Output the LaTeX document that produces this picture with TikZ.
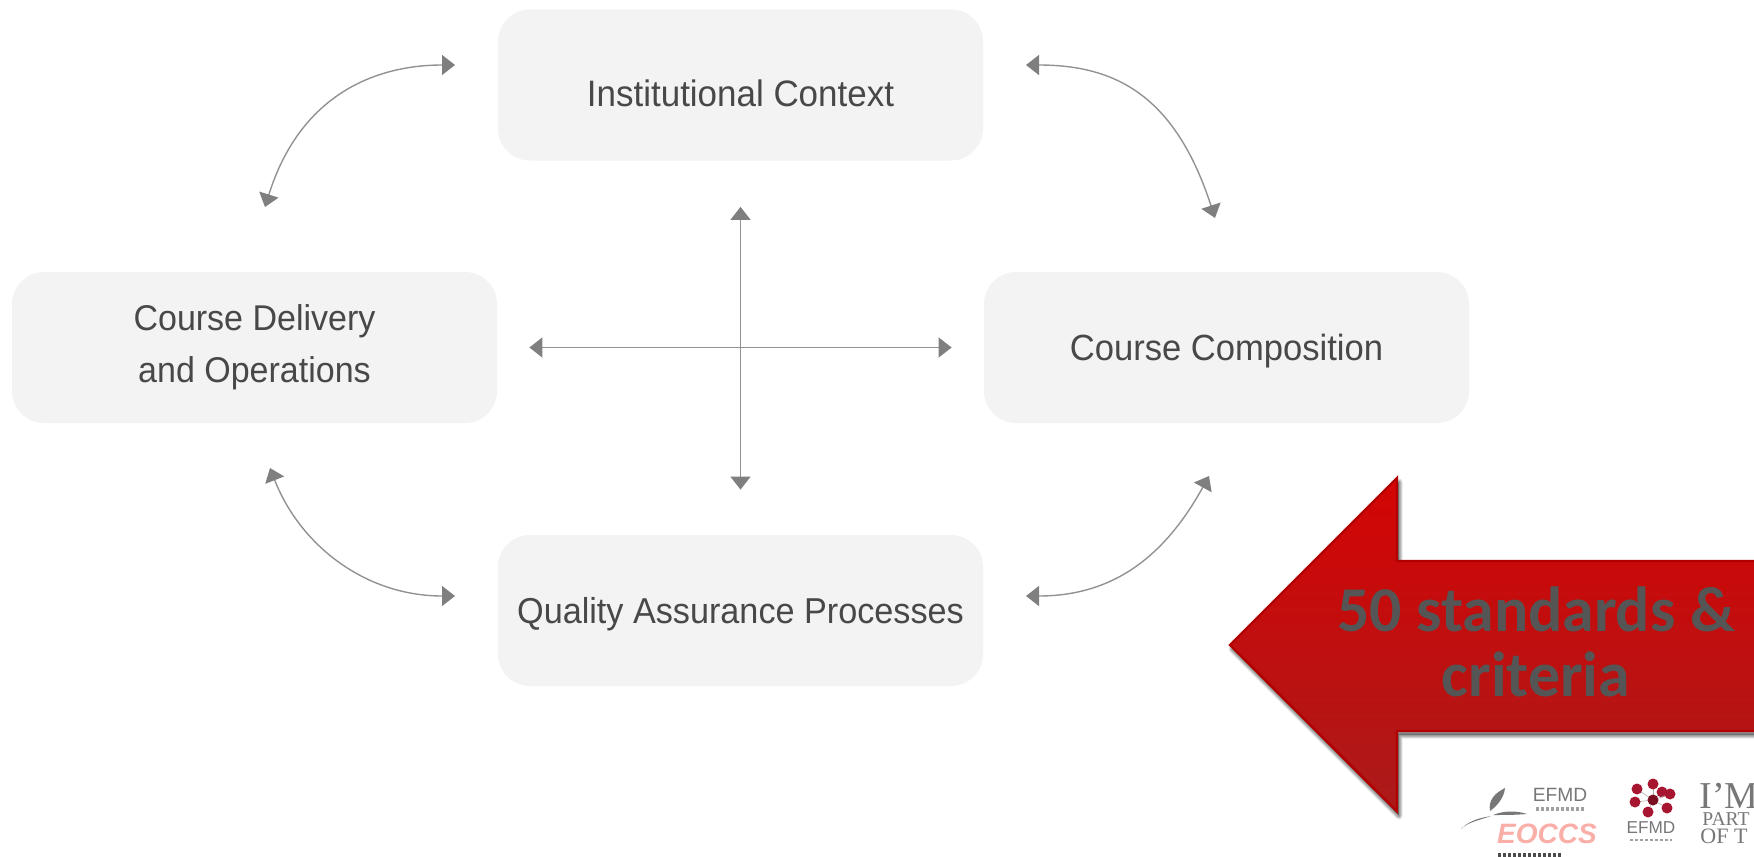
\documentclass[tikz,border=0pt]{standalone}
\usepackage{fontspec}
\setmainfont{Liberation Sans}
\newfontfamily\neue[FakeStretch=0.95]{Liberation Sans}
\newfontfamily\callout{Carlito}
\newfontfamily\serifl{Liberation Serif}
\usetikzlibrary{arrows.meta}
\definecolor{boxfill}{HTML}{F3F3F3}
\definecolor{boxtext}{HTML}{484848}
\definecolor{linegray}{HTML}{929292}
\definecolor{headgray}{HTML}{7F7F7F}
\definecolor{logored}{HTML}{A81530}
\definecolor{logodark}{HTML}{7A0F22}
\definecolor{logogray}{HTML}{777777}
\definecolor{arrowtop}{HTML}{D40404}
\definecolor{arrowbot}{HTML}{AB1A1A}
\definecolor{arrowline}{HTML}{B30000}
\definecolor{textdark}{HTML}{555555}
\definecolor{eoccspink}{HTML}{F9AFA8}
\newcommand{\lowered}[2]{\raisebox{-#1}[0pt][0pt]{#2}}
\tikzset{
  x=0.5pt,y=0.5pt,
  stagebox/.style={draw=none,fill=boxfill,rounded corners=16pt,minimum width=242.5pt,minimum height=75.5pt,inner sep=0pt,align=center,text=boxtext},
  link/.style={draw=linegray,line width=0.7pt,{Triangle[width=10pt,length=6.5pt,color=headgray]}-{Triangle[width=10pt,length=6.5pt,color=headgray]}},
  logotext/.style={inner sep=0pt,text=logogray},
  feather/.style={fill=logogray,draw=none},
  dot/.style={circle,fill=logored,draw=none,inner sep=0pt,minimum size=5.5pt},
  spoke/.style={draw=logogray!60,line width=0.3pt},
  smudge/.style={draw=logogray!70,line width=1.8pt,dash pattern=on 1.5pt off 1pt},
}
\begin{document}
\begin{tikzpicture}
\useasboundingbox (0,0) rectangle (1754,-856);
\clip (0,0) rectangle (1754,-856);
\node[stagebox,font=\neue\fontsize{18.4pt}{26pt}\selectfont] (inst) at (740.5,-85) {\lowered{10.5pt}{Institutional Context}};
\node[stagebox,font=\neue\fontsize{17.9pt}{26pt}\selectfont] (deliv) at (254.5,-347.5) {Course Delivery\\and Operations};
\node[stagebox,font=\neue\fontsize{18.2pt}{26pt}\selectfont] (comp) at (1226.5,-347.5) {\lowered{6.5pt}{Course Composition}};
\node[stagebox,font=\neue\fontsize{18pt}{26pt}\selectfont] (qa) at (740.5,-610.5) {\lowered{6.5pt}{Quality Assurance Processes}};
\coordinate (tl1) at (455,-65);
\coordinate (tl2) at (265,-207);
\coordinate (tr1) at (1026,-65);
\coordinate (tr2) at (1215,-218);
\coordinate (bl1) at (270,-468);
\coordinate (bl2) at (455,-596);
\coordinate (br1) at (1026,-596);
\coordinate (br2) at (1209,-476);
\draw[link] (tl1) .. controls (375,-65) and (300,-95) .. (tl2);
\draw[link] (tr1) .. controls (1115,-65) and (1175,-95) .. (tr2);
\draw[link] (bl1) .. controls (300,-545) and (365,-596) .. (bl2);
\draw[link] (br1) .. controls (1105,-596) and (1160,-565) .. (br2);
\draw[link] ([yshift=-23pt]inst.south) -- ([yshift=22.5pt]qa.north);
\draw[link] ([xshift=16pt]deliv.east) -- ([xshift=-16pt]comp.west);
% big arrow
\foreach \o/\s in {0.10/7,0.12/5,0.16/3}{
  \fill[black,opacity=\o,line width=\s*0.5pt,draw=black,draw opacity=\o,line join=round]
   (1232,-649) -- (1399,-482) -- (1399,-565) -- (1780,-565) -- (1780,-735) -- (1399,-735) -- (1399,-816) -- cycle;
}
\shade[top color=arrowtop,bottom color=arrowbot,draw=arrowline,line width=1.2pt,line join=miter]
   (1230,-645) -- (1397,-478) -- (1397,-561) -- (1770,-561) -- (1770,-731) -- (1397,-731) -- (1397,-811.5) -- cycle;
\node[inner sep=0pt,align=center,text=textdark,font=\callout\bfseries\fontsize{31.9pt}{32.5pt}\selectfont] (call) at (1536,-642) {50 standards \&\\criteria};
% EOCCS logo
\fill[feather] (1490,-811) .. controls (1488,-800) and (1495,-793) .. (1505,-788) .. controls (1504,-798) and (1497,-806) .. (1490,-811) -- cycle;
\fill[feather] (1461,-829) .. controls (1470,-820) and (1480,-818) .. (1491,-816) .. controls (1480,-820) and (1468,-822) .. (1461,-829) -- cycle;
\fill[feather] (1493,-815) .. controls (1505,-810) and (1518,-811) .. (1527,-814) .. controls (1515,-815) and (1503,-815) .. (1493,-815) -- cycle;
\node[logotext,font=\fontsize{9.6pt}{9pt}\selectfont] (efmda) at (1560,-795) {EFMD};
\draw[smudge,line width=1.6pt] (1536,-809) -- (1584,-809);
\node[inner sep=0pt,text=eoccspink,font=\bfseries\itshape\fontsize{14pt}{14pt}\selectfont] (eoccs) at (1547,-834) {EOCCS};
\draw[smudge,draw=black!70] (1498,-855) -- (1563,-855);
% EFMD logo
\coordinate (g0) at (1653,-800);
\foreach \a/\b in {1637/789,1653/784,1662/792,1670/794,1635/802,1667/808,1648/812}{\draw[spoke] (g0) -- (\a,-\b); \node[dot] at (\a,-\b) {};}
\node[dot,fill=logodark] (gc) at (g0) {};
\node[logotext,font=\fontsize{8.6pt}{8pt}\selectfont] (efmdb) at (1651,-828) {EFMD};
\draw[smudge,line width=1.2pt] (1630,-840) -- (1672,-840);
% IM logo
\node[logotext,anchor=base west,font=\serifl\fontsize{19pt}{20pt}\selectfont] (im) at (1699,-808) {I’M};
\node[logotext,anchor=base west,font=\serifl\fontsize{9.8pt}{10pt}\selectfont] (part) at (1702,-825) {PART};
\node[logotext,anchor=base west,font=\serifl\fontsize{11pt}{12pt}\selectfont] (oft) at (1700,-843) {OF T};
\end{tikzpicture}
\end{document}
